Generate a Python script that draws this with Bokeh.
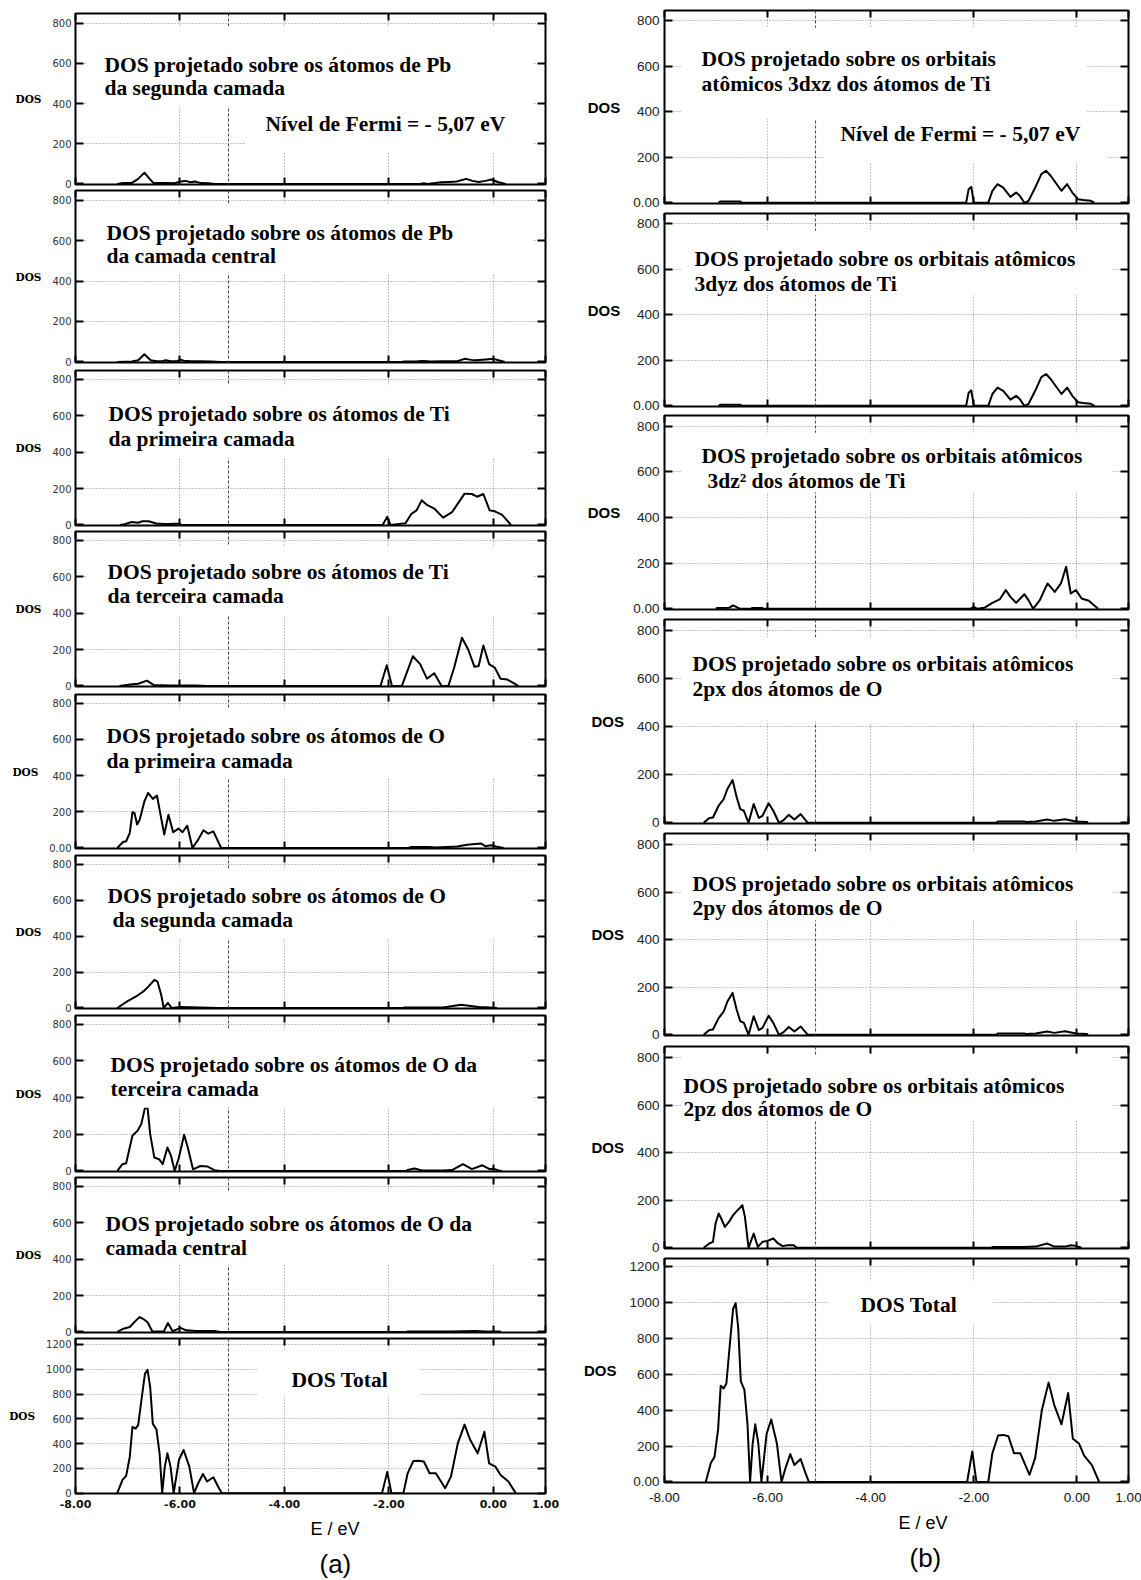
from bokeh.plotting import figure
from bokeh.layouts import row, column
from bokeh.models import Range1d, FixedTicker, LinearAxis, Span, BoxAnnotation, Label, Title
from bokeh.embed import file_html
from bokeh.resources import INLINE

FERMI_LEVEL = -5.07
X_TICKS = [-8, -6, -4, -2, 0, 1]
X_TICK_TEXT = {-8: "-8.00", -6: "-6.00", -4: "-4.00", -2: "-2.00", 0: "0.00", 1: "1.00"}
X_GRID = [-6, -4, -2, 0]
Y_TICKS_PDOS = [0, 200, 400, 600, 800]
Y_TICKS_TOTAL = [0, 200, 400, 600, 800, 1000, 1200]

# ---------------- (a) DOS projected on the atoms of each layer ----------------
e_pb_segunda = [-7.20, -7.09, -6.92, -6.80, -6.68, -6.58, -6.51, -6.40, -6.27, -6.10, -5.99, -5.89, -5.80,
                -5.71, -5.60, -5.45, -5.34,
                -1.40, -1.33, -1.26, -1.00, -0.85, -0.70, -0.52, -0.40, -0.28, -0.15, -0.04, 0.10, 0.24]
dos_pb_segunda = [0, 4, 5, 25, 56, 25, 5, 4, 5, 3, 12, 15, 8, 12, 4, 3, 0,
                  0, 3, 0, 8, 10, 12, 25, 15, 10, 15, 22, 8, 0]

e_pb_central = [-7.20, -6.92, -6.80, -6.68, -6.56, -6.45, -6.33, -6.27, -6.18, -6.05, -6.00, -5.93, -5.80,
                -5.60, -5.40, -5.21,
                -1.75, -1.71, -1.45, -1.33, -1.20, -0.96, -0.69, -0.55, -0.42, -0.34, -0.14, 0.00, 0.10, 0.22]
dos_pb_central = [0, 2, 8, 38, 8, 3, 5, 8, 3, 3, 12, 6, 3, 3, 2, 0,
                  0, 2, 3, 5, 2, 3, 3, 15, 10, 8, 12, 15, 8, 0]

e_ti_primeira = [-7.15, -7.09, -6.92, -6.80, -6.72, -6.60, -6.45, -6.30, -6.20, -6.10, -6.00, -5.98,
                 -2.12, -2.03, -1.97, -1.88, -1.68, -1.57, -1.47, -1.37, -1.27, -1.13, -0.96, -0.79,
                 -0.55, -0.41, -0.31, -0.19, -0.07, 0.03, 0.17, 0.34]
dos_ti_primeira = [0, 2, 16, 12, 20, 20, 8, 5, 5, 6, 7, 0,
                   0, 45, 0, 3, 10, 60, 80, 135, 110, 90, 40, 70, 172, 170, 155, 170, 80, 75, 55, 0]

e_ti_terceira = [-7.16, -6.95, -6.80, -6.63, -6.50, -6.20, -6.00, -5.70, -5.48,
                 -2.16, -2.04, -1.94, -1.75, -1.54, -1.40, -1.27, -1.13, -0.99, -0.86, -0.75, -0.60,
                 -0.48, -0.36, -0.28, -0.19, -0.08, 0.03, 0.14, 0.27, 0.48]
dos_ti_terceira = [0, 8, 12, 29, 5, 3, 3, 2, 0,
                   0, 114, 0, 0, 163, 120, 40, 70, 0, 0, 100, 265, 200, 105, 110, 222, 120, 100, 40, 35, 0]

e_o_primeira = [-7.20, -7.09, -7.03, -6.96, -6.91, -6.87, -6.82, -6.77, -6.68, -6.61, -6.52, -6.44, -6.39,
                -6.30, -6.22, -6.13, -6.03, -5.95, -5.86, -5.76, -5.65, -5.55, -5.46, -5.36, -5.21,
                -1.62, -1.575, -1.23, -1.10, -0.69, -0.50, -0.24, -0.15, -0.04, 0.05, 0.20]
dos_o_primeira = [0, 33, 37, 83, 197, 193, 129, 157, 258, 304, 271, 289, 212, 74, 184, 87, 107, 87, 123,
                  0, 46, 98, 79, 92, 0,
                  0, 5, 5, 3, 8, 18, 25, 10, 15, 8, 0]

e_o_segunda = [-7.20, -7.01, -6.84, -6.70, -6.60, -6.49, -6.43, -6.36, -6.31, -6.23, -6.16, -5.99, -5.61, -5.27,
               -1.72, -1.70, -1.10, -0.96, -0.62, -0.28, -0.07, 0.07]
dos_o_segunda = [0, 37, 64, 92, 120, 156, 147, 74, 0, 28, 0, 5, 3, 0,
                 0, 3, 3, 2, 18, 5, 3, 0]

e_o_terceira = [-7.20, -7.10, -7.03, -6.91, -6.81, -6.74, -6.67, -6.62, -6.57, -6.49, -6.40, -6.33, -6.24,
                -6.17, -6.10, -6.02, -5.92, -5.85, -5.75, -5.61, -5.47, -5.34, -5.23,
                -1.66, -1.64, -1.51, -1.37, -1.20, -0.96, -0.79, -0.58, -0.41, -0.21, -0.07, 0.00, 0.10, 0.16]
dos_o_terceira = [0, 37, 42, 192, 220, 256, 344, 344, 201, 73, 64, 37, 128, 82, 0, 73, 198, 128, 9, 27, 24, 4, 0,
                  0, 5, 13, 3, 3, 3, 5, 37, 10, 31, 10, 12, 3, 0]

e_o_central = [-7.20, -7.10, -6.96, -6.86, -6.77, -6.70, -6.62, -6.53, -6.31, -6.23, -6.14, -5.99, -5.88,
               -5.68, -5.34, -5.23,
               -1.66, -1.64, -1.06, -0.82, -0.34, -0.14, 0.13, 0.15]
dos_o_central = [0, 16, 27, 58, 82, 71, 53, 4, 2, 49, 4, 22, 9, 5, 5, 0,
                 0, 3, 3, 3, 5, 3, 2, 0]

# total DOS, shared by both columns
e_total = [-7.20, -7.10, -7.03, -6.96, -6.91, -6.85, -6.80, -6.73, -6.67, -6.62, -6.57, -6.52, -6.45, -6.39,
           -6.34, -6.29, -6.24, -6.18, -6.12, -6.02, -5.93, -5.82, -5.73, -5.65, -5.56, -5.48, -5.36, -5.27, -5.20,
           -2.13, -2.03, -1.95, -1.72, -1.64, -1.53, -1.43, -1.33, -1.22, -1.10, -0.92, -0.81, -0.68, -0.55,
           -0.44, -0.30, -0.17, -0.08, 0.04, 0.14, 0.29, 0.43]
dos_total = [0, 107, 139, 294, 535, 521, 548, 775, 963, 995, 856, 561, 513, 321,
             0, 214, 321, 214, 0, 267, 348, 214, 0, 80, 155, 94, 128, 53, 0,
             0, 170, 0, 0, 160, 259, 262, 255, 160, 160, 40, 134, 401, 553,
             428, 321, 495, 241, 214, 147, 94, 0]

# ---------------- (b) DOS projected on atomic orbitals ----------------
e_ti_3dxz = [-6.95, -6.92, -6.53, -6.50,
             -2.15, -2.10, -2.05, -2.00, -1.72, -1.64, -1.54, -1.43, -1.29, -1.18, -1.11, -1.02, -0.94,
             -0.81, -0.69, -0.60, -0.51, -0.30, -0.19, -0.09, 0.02, 0.12, 0.27, 0.34]
dos_ti_3dxz = [0, 6, 6, 0,
               0, 60, 70, 0, 0, 53, 82, 67, 26, 45, 31, 0, 8, 67, 126, 141, 119, 53, 82, 45, 16, 12, 9, 0]

e_ti_3dyz = [-6.95, -6.92, -6.53, -6.50,
             -2.15, -2.10, -2.05, -2.00, -1.72, -1.64, -1.54, -1.43, -1.29, -1.18, -1.11, -1.02, -0.94,
             -0.81, -0.69, -0.60, -0.51, -0.30, -0.19, -0.09, 0.02, 0.12, 0.27, 0.34]
dos_ti_3dyz = [0, 5, 5, 0,
               0, 58, 68, 0, 0, 52, 80, 66, 27, 44, 30, 0, 8, 66, 126, 140, 118, 52, 80, 44, 16, 12, 9, 0]

e_ti_3dz2 = [-7.00, -6.99, -6.74, -6.67, -6.58, -6.53, -6.32, -6.30, -6.10, -6.09,
             -2.07, -2.00, -1.93, -1.79, -1.64, -1.50, -1.38, -1.29, -1.18, -1.02, -0.94, -0.85, -0.72,
             -0.57, -0.43, -0.31, -0.21, -0.12, -0.02, 0.09, 0.23, 0.41]
dos_ti_3dz2 = [0, 4, 5, 15, 5, 0, 0, 4, 4, 0,
               0, 8, 0, 5, 26, 41, 82, 52, 26, 64, 38, 0, 38, 111, 74, 111, 184, 67, 82, 45, 35, 0]

e_o_2px = [-7.24, -7.13, -7.06, -6.95, -6.85, -6.78, -6.68, -6.60, -6.53, -6.46, -6.37, -6.27, -6.17, -6.10,
           -5.98, -5.89, -5.78, -5.69, -5.59, -5.48, -5.36, -5.22,
           -1.56, -1.54, -1.01, -0.99, -0.80, -0.58, -0.44, -0.23, -0.02, 0.20, 0.21]
dos_o_2px = [0, 20, 22, 71, 99, 141, 178, 106, 57, 50, 0, 78, 20, 29, 81, 50, 0, 11, 33, 14, 36, 0,
             0, 5, 5, 3, 5, 14, 8, 15, 5, 3, 0]

e_o_2py = [-7.24, -7.13, -7.06, -6.95, -6.85, -6.78, -6.68, -6.60, -6.53, -6.46, -6.37, -6.27, -6.17, -6.10,
           -5.98, -5.89, -5.78, -5.69, -5.59, -5.48, -5.36, -5.22,
           -1.56, -1.54, -1.01, -0.99, -0.80, -0.58, -0.44, -0.23, -0.02, 0.20, 0.21]
dos_o_2py = [0, 20, 22, 70, 98, 140, 176, 105, 57, 50, 0, 78, 20, 29, 80, 50, 0, 11, 33, 14, 35, 0,
             0, 5, 5, 3, 5, 14, 8, 15, 5, 3, 0]

e_o_2pz = [-7.24, -7.13, -7.06, -7.01, -6.95, -6.90, -6.83, -6.75, -6.67, -6.58, -6.49, -6.44, -6.37, -6.27,
           -6.19, -6.10, -6.00, -5.89, -5.81, -5.71, -5.61, -5.50, -5.43,
           -1.66, -1.64, -1.36, -1.18, -1.04, -0.80, -0.58, -0.44, -0.23, -0.12, -0.02, 0.09]
dos_o_2pz = [0, 18, 25, 102, 144, 123, 88, 109, 137, 158, 179, 130, 0, 60, 4, 25, 29, 39, 21, 7, 11, 11, 0,
             0, 3, 3, 3, 3, 5, 18, 5, 5, 11, 8, 0]

# ---------------- styling ----------------
TEXT_STYLE = dict(text_font="Liberation Serif", text_font_style="bold",
                  text_font_size="21.5px", text_color="black")

STYLE_A = dict(border_l=75, frame_w=470, border_r=35,
               tick_font="DejaVu Sans", tick_size="10px", tick_color="#333333", tick_standoff=4,
               dos_font="DejaVu Serif", dos_size="10.5px", dos_standoff=8,
               x_font="DejaVu Sans", x_size="11px", x_style="bold", x_standoff=6,
               caption_off=(235, 244))
STYLE_B = dict(border_l=82, frame_w=464, border_r=15,
               tick_font="Liberation Sans", tick_size="13.5px", tick_color="#222222", tick_standoff=5,
               dos_font="Liberation Sans", dos_size="15px", dos_standoff=10,
               x_font="Liberation Sans", x_size="13.5px", x_style="normal", x_standoff=10,
               caption_off=(234, 245))


def ticks_only(axis, ticks, length):
    axis.ticker = FixedTicker(ticks=ticks)
    axis.major_tick_in = length
    axis.major_tick_out = 0
    axis.major_tick_line_color = "black"
    axis.major_tick_line_width = 2
    axis.minor_tick_line_color = None
    axis.axis_line_color = None
    axis.major_label_text_color = None
    axis.major_label_text_font_size = "0px"
    axis.major_label_standoff = 0


def panel(energy, dos, st, frame_h, pad_top, pad_bottom, y_end, y_ticks, zero_text,
          texts, masks, caption=None):
    y_start = -3
    p = figure(frame_width=st["frame_w"], frame_height=frame_h,
               x_range=Range1d(-8, 1), y_range=Range1d(y_start, y_end),
               output_backend="svg", toolbar_location=None,
               min_border_left=st["border_l"], min_border_right=st["border_r"],
               min_border_top=pad_top, min_border_bottom=pad_bottom,
               background_fill_color="white", border_fill_color="white")
    p.outline_line_color = "black"
    p.outline_line_width = 2

    # dotted grid
    p.xgrid.ticker = FixedTicker(ticks=X_GRID)
    p.ygrid.ticker = FixedTicker(ticks=y_ticks[1:])
    p.grid.grid_line_color = "#8a8a8a"
    p.grid.grid_line_dash = "1 2"
    p.grid.grid_line_width = 1

    # left axis with labels
    ya = p.yaxis[0]
    ya.ticker = FixedTicker(ticks=y_ticks)
    ya.major_label_overrides = {0: zero_text}
    ya.major_tick_in = 8
    ya.major_tick_out = 0
    ya.major_tick_line_width = 2
    ya.minor_tick_line_color = None
    ya.axis_line_color = None
    ya.major_label_standoff = st["tick_standoff"]
    ya.major_label_text_font = st["tick_font"]
    ya.major_label_text_font_size = st["tick_size"]
    ya.major_label_text_color = st["tick_color"]
    ya.axis_label = "DOS"
    ya.axis_label_orientation = "horizontal"
    ya.axis_label_standoff = st["dos_standoff"]
    ya.axis_label_text_font = st["dos_font"]
    ya.axis_label_text_font_size = st["dos_size"]
    ya.axis_label_text_font_style = "bold"
    ya.axis_label_text_color = "black"

    right_axis = LinearAxis()
    p.add_layout(right_axis, "right")
    ticks_only(right_axis, y_ticks, 8)

    xa = p.xaxis[0]
    if caption is None:
        ticks_only(xa, X_TICKS, 7)
    else:
        xa.ticker = FixedTicker(ticks=X_TICKS)
        xa.major_label_overrides = X_TICK_TEXT
        xa.major_tick_in = 7
        xa.major_tick_out = 0
        xa.major_tick_line_width = 2
        xa.minor_tick_line_color = None
        xa.axis_line_color = None
        xa.major_label_standoff = st["x_standoff"]
        xa.major_label_text_font = st["x_font"]
        xa.major_label_text_font_size = st["x_size"]
        xa.major_label_text_font_style = st["x_style"]
        xa.major_label_text_color = "#111111"
    top_axis = LinearAxis()
    p.add_layout(top_axis, "above")
    ticks_only(top_axis, X_TICKS, 7)

    p.line(energy, dos, line_color="black", line_width=2, line_join="round")

    p.add_layout(Span(location=FERMI_LEVEL, dimension="height", line_color="#444444",
                      line_dash="3 2", line_width=1))
    # white boxes behind the panel captions
    for left, right, bottom, top in masks:
        p.add_layout(BoxAnnotation(left=left, right=right, bottom=bottom, top=top,
                                   fill_color="white", fill_alpha=1.0, line_color=None))

    def to_data(dx, dy):
        x = -8 + dx / st["frame_w"] * 9
        y = y_end - dy / frame_h * (y_end - y_start)
        return x, y

    for text, dx, dy in texts:
        x, y = to_data(dx, dy)
        p.add_layout(Label(x=x, y=y, text=text, text_align="left",
                           text_baseline="alphabetic", **TEXT_STYLE))

    if caption is not None:
        off_axis, off_letter = st["caption_off"]
        p.add_layout(Title(text="E / eV", align="left", offset=off_axis, standoff=13,
                           text_font="Liberation Sans", text_font_style="normal",
                           text_font_size="18px", text_color="black"), "below")
        p.add_layout(Title(text=caption, align="left", offset=off_letter, standoff=2,
                           text_font="Liberation Sans", text_font_style="normal",
                           text_font_size="26px", text_color="black"), "below")
    return p


LEFT_MASK = (-7.8, 0.75)
RIGHT_MASK = (-7.67, 0.68)

col_a = [
    panel(e_pb_segunda, dos_pb_segunda, STYLE_A, 171, 13, 5, 848, Y_TICKS_PDOS, "0",
          [("DOS projetado sobre os átomos de Pb", 29, 51), ("da segunda camada", 29, 74),
           ("Nível de Fermi = - 5,07 eV", 190, 110)],
          [(LEFT_MASK[0], LEFT_MASK[1], 385, 785), (-4.75, LEFT_MASK[1], 155, 385)]),
    panel(e_pb_central, dos_pb_central, STYLE_A, 172, 1, 7, 848, Y_TICKS_PDOS, "0",
          [("DOS projetado sobre os átomos de Pb", 31, 42), ("da camada central", 31, 65)],
          [(LEFT_MASK[0], LEFT_MASK[1], 438, 785)]),
    panel(e_ti_primeira, dos_ti_primeira, STYLE_A, 155, 1, 5, 848, Y_TICKS_PDOS, "0",
          [("DOS projetado sobre os átomos de Ti", 33, 43), ("da primeira camada", 33, 68)],
          [(LEFT_MASK[0], LEFT_MASK[1], 367, 770)]),
    panel(e_ti_terceira, dos_ti_terceira, STYLE_A, 155, 1, 7, 848, Y_TICKS_PDOS, "0",
          [("DOS projetado sobre os átomos de Ti", 32, 40), ("da terceira camada", 32, 64)],
          [(LEFT_MASK[0], LEFT_MASK[1], 386, 770)]),
    panel(e_o_primeira, dos_o_primeira, STYLE_A, 154, 1, 6, 848, Y_TICKS_PDOS, "0.00",
          [("DOS projetado sobre os átomos de O", 31, 41), ("da primeira camada", 31, 66)],
          [(LEFT_MASK[0], LEFT_MASK[1], 387, 770)]),
    panel(e_o_segunda, dos_o_segunda, STYLE_A, 153, 1, 6, 848, Y_TICKS_PDOS, "0",
          [("DOS projetado sobre os átomos de O", 32, 40), ("da segunda camada", 37, 64)],
          [(LEFT_MASK[0], LEFT_MASK[1], 387, 770)]),
    panel(e_o_terceira, dos_o_terceira, STYLE_A, 156, 1, 5, 848, Y_TICKS_PDOS, "0",
          [("DOS projetado sobre os átomos de O da", 35, 49), ("terceira camada", 35, 73)],
          [(LEFT_MASK[0], LEFT_MASK[1], 345, 770)]),
    panel(e_o_central, dos_o_central, STYLE_A, 155, 1, 5, 848, Y_TICKS_PDOS, "0",
          [("DOS projetado sobre os átomos de O da", 30, 46), ("camada central", 30, 70)],
          [(LEFT_MASK[0], LEFT_MASK[1], 367, 770)]),
    panel(e_total, dos_total, STYLE_A, 155, 1, 87, 1248, Y_TICKS_TOTAL, "0",
          [("DOS Total", 216, 41)],
          [(-4.52, -1.40, 790, 1153)], caption="(a)"),
]

col_b = [
    panel(e_ti_3dxz, dos_ti_3dxz, STYLE_B, 193, 10, 9, 846, Y_TICKS_PDOS, "0.00",
          [("DOS projetado sobre os orbitais", 37, 48), ("atômicos 3dxz dos átomos de Ti", 37, 73),
           ("Nível de Fermi = - 5,07 eV", 176, 123)],
          [(RIGHT_MASK[0], 0.18, 369, 770), (-4.91, 0.60, 176, 369)]),
    panel(e_ti_3dyz, dos_ti_3dyz, STYLE_B, 193, 1, 8, 846, Y_TICKS_PDOS, "0.00",
          [("DOS projetado sobre os orbitais atômicos", 30, 45), ("3dyz dos átomos de Ti", 30, 70)],
          [(RIGHT_MASK[0], RIGHT_MASK[1], 488, 770)]),
    panel(e_ti_3dz2, dos_ti_3dz2, STYLE_B, 194, 1, 9, 846, Y_TICKS_PDOS, "0.00",
          [("DOS projetado sobre os orbitais atômicos", 37, 40), ("3dz² dos átomos de Ti", 43, 65)],
          [(RIGHT_MASK[0], RIGHT_MASK[1], 510, 770)]),
    panel(e_o_2px, dos_o_2px, STYLE_B, 204, 1, 9, 846, Y_TICKS_PDOS, "0",
          [("DOS projetado sobre os orbitais atômicos", 28, 44), ("2px dos átomos de O", 28, 69)],
          [(RIGHT_MASK[0], RIGHT_MASK[1], 420, 770)]),
    panel(e_o_2py, dos_o_2py, STYLE_B, 202, 1, 10, 846, Y_TICKS_PDOS, "0",
          [("DOS projetado sobre os orbitais atômicos", 28, 50), ("2py dos átomos de O", 28, 74)],
          [(RIGHT_MASK[0], RIGHT_MASK[1], 481, 770)]),
    panel(e_o_2pz, dos_o_2pz, STYLE_B, 202, 1, 9, 846, Y_TICKS_PDOS, "0",
          [("DOS projetado sobre os orbitais atômicos", 19, 39), ("2pz dos átomos de O", 19, 62)],
          [(RIGHT_MASK[0], RIGHT_MASK[1], 534, 810)]),
    panel(e_total, dos_total, STYLE_B, 224, 1, 98, 1244, Y_TICKS_TOTAL, "0.00",
          [("DOS Total", 196, 46)],
          [(-4.83, -1.65, 883, 1122)], caption="(b)"),
]

layout = row(column(*col_a, spacing=0), column(*col_b, spacing=0), spacing=0)

with open("out.html", "w") as f:
    f.write(file_html(layout, INLINE))
